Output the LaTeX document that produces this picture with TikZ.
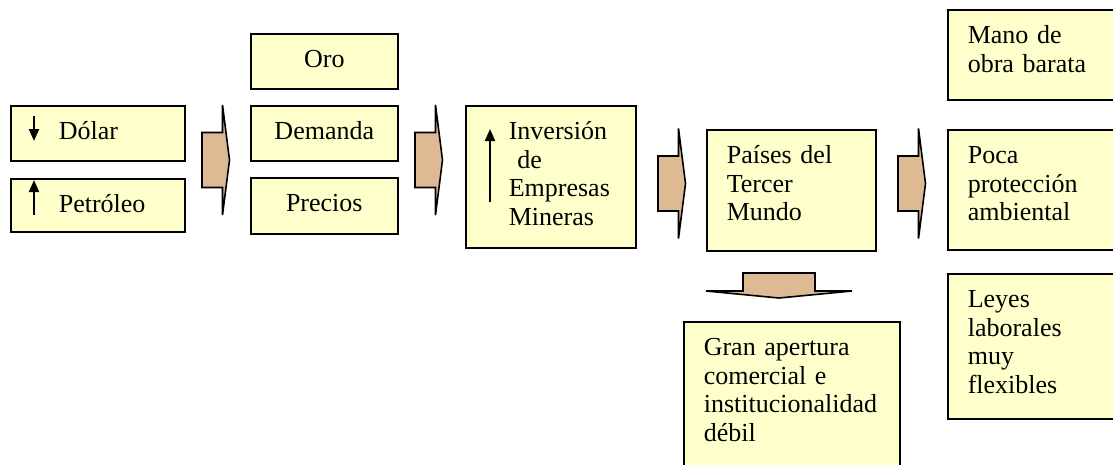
\documentclass[tikz,border=0pt]{standalone}
\usepackage{fontspec}
\setmainfont{Liberation Serif}
\usetikzlibrary{arrows.meta}
\definecolor{amarillo}{RGB}{255,255,204}
\definecolor{canela}{RGB}{222,186,148}
\newcommand{\letra}{\fontsize{19.5pt}{21.4pt}\selectfont}
\newcommand{\sangria}{\hspace*{17.25pt}}
\tikzstyle{caja}=[draw=black,line width=1.2pt,fill=amarillo,anchor=north west,inner xsep=15pt,inner ysep=0pt,text height=25.5pt,align=left,font=\letra]
\tikzstyle{bloque}=[draw=black,line width=1.2pt,fill=canela]
\tikzstyle{flechita}=[line width=1.5pt,-{Triangle[length=9pt,width=7.5pt]}]
\tikzset{flecha/.pic={
    \draw[bloque] (0,-27.5) -- (20.5,-27.5) -- (20.5,-55) -- (27.5,0)
        -- (20.5,55) -- (20.5,27.5) -- (0,27.5) -- cycle;}}

\begin{document}
\begin{tikzpicture}[x=0.75pt,y=-0.75pt]
    \useasboundingbox (0,0) rectangle (1113,464);
    % primera columna
    \node[caja,text width=100.5pt,text depth=15.75pt] (dolar) at (10,105) {\hspace*{21pt}Dólar};
    \node[caja,text width=100.5pt,text depth=14.25pt] (petroleo) at (10,178) {\hspace*{21pt}Petróleo};
    \draw[flechita] (34,116) -- (34,141);
    \draw[flechita] (34,215) -- (34,180);
    \pic at (202,160) {flecha};
    % segunda columna
    \node[caja,align=center,text width=80.25pt,text depth=15.75pt] (oro) at (250,33) {Oro};
    \node[caja,align=center,text width=80.25pt,text depth=15.75pt] (demanda) at (250,105) {Demanda};
    \node[caja,align=center,text width=80.25pt,text depth=16.5pt] (precios) at (250,177) {Precios};
    \pic at (415,160) {flecha};
    % inversion
    \node[caja,text width=97.5pt,text depth=81pt] (inversion) at (465,105)
        {\sangria Inversión\\\sangria\ de\\\sangria Empresas\\\sangria Mineras};
    \draw[flechita] (490,202) -- (490,129);
    \pic at (658,183.5) {flecha};
    % paises
    \node[caja,text width=96.75pt,text depth=65.25pt] (paises) at (706,129)
        {Países del\\Tercer\\Mundo};
    \pic at (898,183.5) {flecha};
    \draw[bloque] (743,273) -- (815,273) -- (815,291) -- (852,291) -- (779,298)
        -- (706,291) -- (743,291) -- cycle;
    \node[caja,text width=132pt,text depth=94.5pt] (gran) at (683,321)
        {Gran apertura\\comercial e\\institucionalidad\\débil};
    % consecuencias
    \node[caja,text width=96.75pt,text depth=42pt] (mano) at (947,9)
        {Mano de\\obra barata};
    \node[caja,text width=96.75pt,text depth=64.5pt] (poca) at (947,129)
        {Poca\\protección\\ambiental};
    \node[caja,text width=96.75pt,text depth=83.25pt] (leyes) at (947,273)
        {Leyes\\laborales\\muy\\flexibles};
\end{tikzpicture}
\end{document}
